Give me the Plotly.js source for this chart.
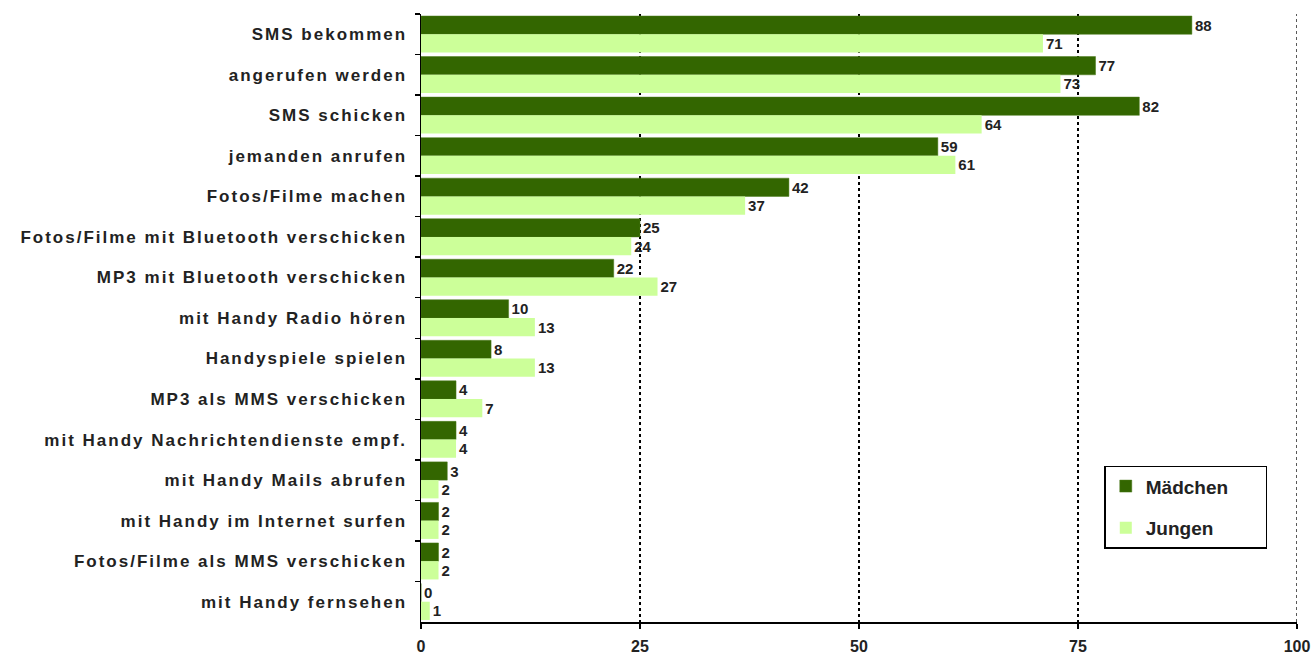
<!DOCTYPE html>
<html>
<head>
<meta charset="utf-8">
<script src="https://cdn.plot.ly/plotly-3.0.1.min.js"></script>
<style>
html,body{margin:0;padding:0;background:#fff;}
#chart{width:1315px;height:661px;}
.ytick text{letter-spacing:2px;}
</style>
</head>
<body>
<div id="chart"></div>
<script>
const categories = [
  "SMS bekommen",
  "angerufen werden",
  "SMS schicken",
  "jemanden anrufen",
  "Fotos/Filme machen",
  "Fotos/Filme mit Bluetooth verschicken",
  "MP3 mit Bluetooth verschicken",
  "mit Handy Radio hören",
  "Handyspiele spielen",
  "MP3 als MMS verschicken",
  "mit Handy Nachrichtendienste empf.",
  "mit Handy Mails abrufen",
  "mit Handy im Internet surfen",
  "Fotos/Filme als MMS verschicken",
  "mit Handy fernsehen"
];
const maedchen = [88, 77, 82, 59, 42, 25, 22, 10, 8, 4, 4, 3, 2, 2, 0];
const jungen   = [71, 73, 64, 61, 37, 24, 27, 13, 13, 7, 4, 2, 2, 2, 1];
const seriesNames = ["Mädchen", "Jungen"];
const xTicks = [0, 25, 50, 75, 100];

const FF = "Liberation Sans, Arial, sans-serif";
const labelFont = {family: FF, size: 15, color: "#222", weight: "bold"};
const pad = "\u00a0\u00a0\u00a0\u00a0\u00a0\u00a0";

const traces = [
  {
    type: "bar", orientation: "h", name: seriesNames[0] + pad, legendgroup: "a",
    y: categories, x: maedchen,
    marker: {color: "#336600", line: {color: "#4a7a1a", width: 0.5}},
    text: maedchen.map(String), textposition: "outside", cliponaxis: false,
    textfont: labelFont, hoverinfo: "x+y"
  },
  {
    type: "bar", orientation: "h", name: seriesNames[1] + pad, legendgroup: "b",
    y: categories, x: jungen,
    marker: {color: "#ccff99"},
    text: jungen.map(String), textposition: "outside", cliponaxis: false,
    textfont: labelFont, hoverinfo: "x+y"
  }
];

const layout = {
  width: 1315, height: 661,
  margin: {l: 421, r: 18, t: 14, b: 39},
  paper_bgcolor: "#fff", plot_bgcolor: "#fff",
  barmode: "group", bargap: 0.1, bargroupgap: 0,
  font: {family: FF, color: "#222"},
  xaxis: {
    range: [0, 100], tickvals: xTicks, ticktext: xTicks.map(String),
    showgrid: true, gridcolor: "#000", gridwidth: 1.3, griddash: "3px,3px",
    zeroline: false, showline: true, linecolor: "#000", linewidth: 1.5,
    ticks: "outside", ticklen: 5, tickcolor: "#000", tickwidth: 1.5,
    ticklabelstandoff: 4,
    tickfont: {family: FF, size: 16, color: "#222", weight: "bold"}
  },
  yaxis: {
    type: "category", autorange: "reversed",
    showline: true, linecolor: "#000", linewidth: 1.5,
    ticks: "outside", ticklen: 5, tickcolor: "#000", tickwidth: 1.5,
    tickson: "boundaries", showgrid: false, ticklabelstandoff: 9,
    tickfont: {family: FF, size: 17, color: "#222", weight: "bold"}
  },
  shapes: [{
    type: "line", xref: "x", yref: "paper",
    x0: xTicks[xTicks.length - 1], x1: xTicks[xTicks.length - 1], y0: 0, y1: 1,
    line: {color: "#000", width: 1.3, dash: "3px,3px"}
  }],
  showlegend: true,
  legend: {
    x: 0.78, y: 0.257, xanchor: "left", yanchor: "top",
    bgcolor: "#fff", bordercolor: "#000", borderwidth: 1.5,
    traceorder: "grouped", tracegroupgap: 14,
    font: {family: FF, size: 19, color: "#222", weight: "bold"}
  }
};

Plotly.newPlot("chart", traces, layout, {displayModeBar: false, staticPlot: true});
</script>
</body>
</html>
